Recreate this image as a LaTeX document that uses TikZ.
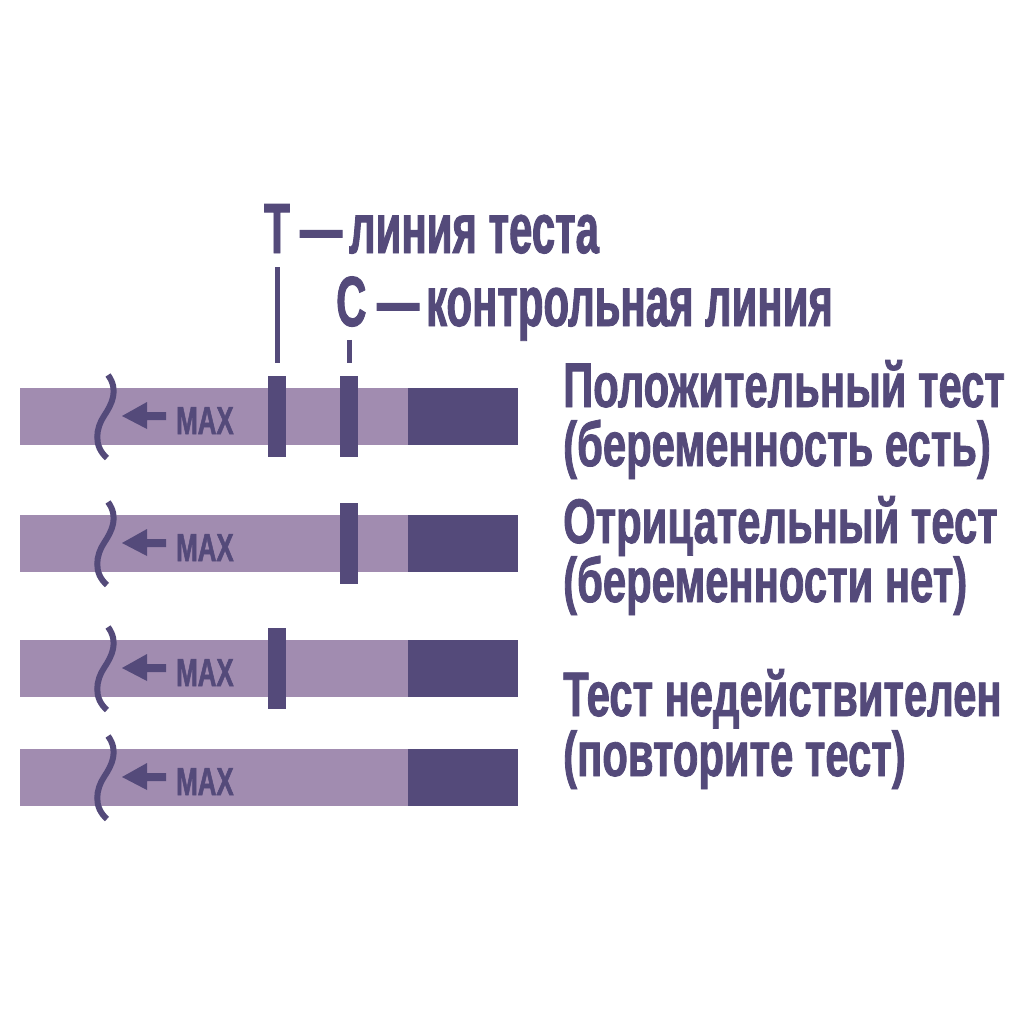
\documentclass[tikz,border=0pt]{standalone}
\usepackage{fontspec}
\newfontfamily\condfont{Liberation Sans}[FakeStretch=0.663, BoldFeatures={FakeBold=1.3}]
\newfontfamily\topfont{Liberation Sans}[FakeStretch=0.59, BoldFeatures={FakeBold=1.3}]
\definecolor{lightstrip}{RGB}{161,140,176}
\definecolor{darkpurple}{RGB}{84,74,122}
\tikzset{
  strip/.style={fill=lightstrip, draw=none},
  handle/.style={fill=darkpurple, draw=none},
  bar/.style={fill=darkpurple, draw=none, inner sep=0pt, minimum width=18pt, minimum height=81pt},
  wave/.style={draw=darkpurple, line width=6pt},
  bigtxt/.style={inner sep=0pt, anchor=base west, text=darkpurple, text height=44pt, text depth=9pt,
    font=\condfont\bfseries\fontsize{63}{63}\selectfont},
  toptxt/.style={inner sep=0pt, anchor=base west, text=darkpurple,
    font=\topfont\bfseries\fontsize{71}{71}\selectfont},
  maxtxt/.style={inner sep=0pt, anchor=base west, text=darkpurple, font=\condfont\bfseries\fontsize{39}{39}\selectfont},
  pointer/.style={draw=darkpurple, line width=5pt},
}
\begin{document}
\begin{tikzpicture}[x=1pt,y=-1pt]
\useasboundingbox[fill=white] (0,0) rectangle (1024,1024);
% strips: top y values
\foreach \i/\y in {1/388,2/515,3/640,4/749}{
  \fill[strip] (20,\y) rectangle (518,\y+57);
  \fill[handle] (408,\y) rectangle (518,\y+57);
  \draw[wave] (108,\y-13) .. controls (119,\y+2) and (112,\y+16) .. (104,\y+28)
                 .. controls (96,\y+40) and (93,\y+58) .. (107,\y+70);
  \fill[darkpurple] (122,\y+28) -- (147,\y+14) -- (147,\y+24) -- (166,\y+24)
                    -- (166,\y+32) -- (147,\y+32) -- (147,\y+41) -- cycle;
  \node[maxtxt] (max\i) at (176,\y+46) {MAX};
}
% test and control lines
\node[bar] (t1) at (277,416.5) {};
\node[bar] (c1) at (349,416.5) {};
\node[bar] (c2) at (349,543.5) {};
\node[bar] (t3) at (277,668.5) {};
% top labels
\node[toptxt] (T) at (264,253) {T};
\node[toptxt] (Tdesc) at (300,253) {—\hspace{7pt}линия теста};
\node[toptxt] (C) at (336,326) {C};
\node[toptxt] (Cdesc) at (377,326) {—\hspace{7pt}контрольная линия};
\draw[pointer, shorten <=14pt, shorten >=13pt] (t1.north |- T.south) -- (t1.north);
\draw[pointer, shorten <=13pt, shorten >=13pt] (c1.north |- C.south) -- (c1.north);
% right labels
\node[bigtxt] (r1a) at (563,407) {Положительный тест};
\node[bigtxt] (r1b) at (563,466) {(беременность есть)};
\node[bigtxt] (r2a) at (563,543) {Отрицательный тест};
\node[bigtxt] (r2b) at (563,602) {(беременности нет)};
\node[bigtxt] (r3a) at (563,716) {Тест недействителен};
\node[bigtxt] (r3b) at (563,776) {(повторите тест)};
\end{tikzpicture}
\end{document}
